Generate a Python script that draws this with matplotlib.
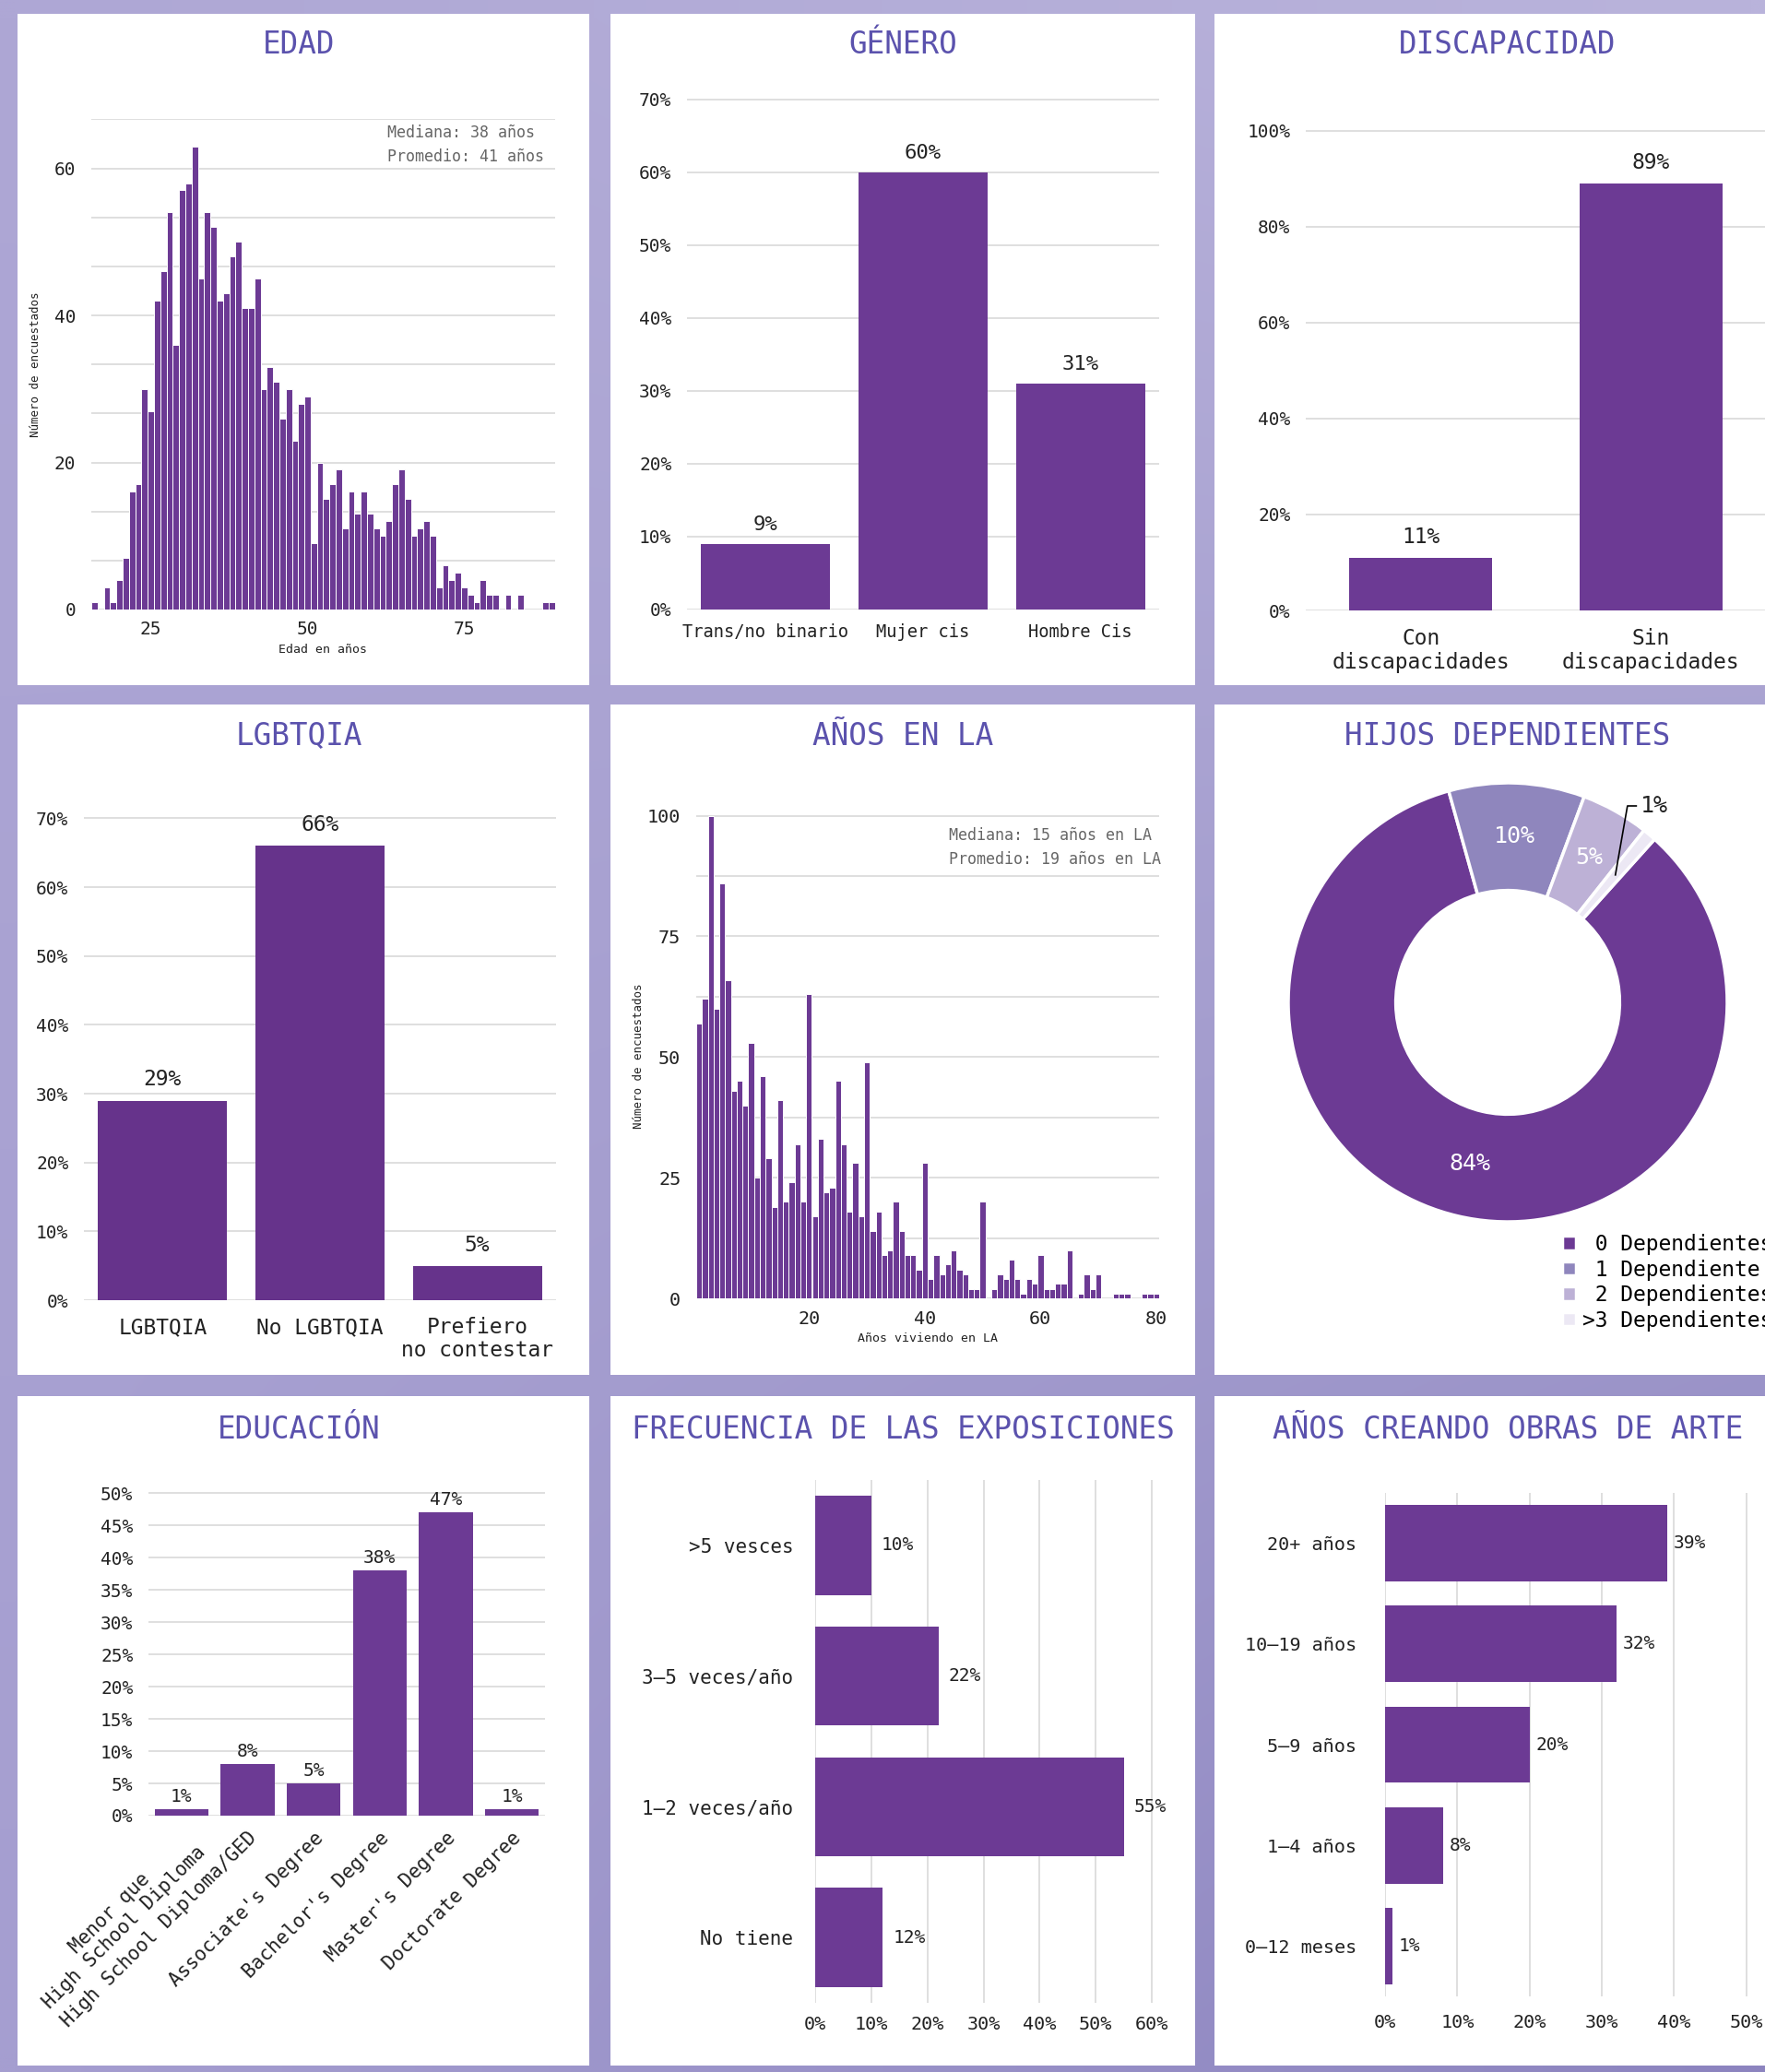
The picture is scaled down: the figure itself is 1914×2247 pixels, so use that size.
import matplotlib
matplotlib.use('Agg')
import matplotlib.pyplot as plt
import numpy as np
from matplotlib.patches import Rectangle
from matplotlib.ticker import MultipleLocator, PercentFormatter

# =========================
# Settings
# =========================
W, H = 1915, 2247
DPI = 100
plt.rcParams['font.family'] = ['DejaVu Sans Mono', 'DejaVu Sans']

PURPLE = '#6c3a94'
PURPLE_DARK = '#66338b'
TITLE_C = '#5b52ad'
GRID_C = '#dcdcdc'
TEXT_C = '#222222'
NOTE_C = '#666666'

# =========================
# Data
# =========================
edad_anios = list(range(16, 90))
edad_conteo = [1, 0, 3, 1, 4, 7, 16, 17, 30, 27, 42, 46, 54, 36, 57, 58, 63, 45,
               54, 52, 42, 43, 48, 50, 41, 41, 45, 30, 33, 31, 26, 30, 23, 28, 29,
               9, 20, 15, 17, 19, 11, 16, 13, 16, 13, 11, 10, 12, 17, 19, 15, 10,
               11, 12, 10, 3, 6, 4, 5, 3, 2, 1, 4, 2, 2, 0, 2, 0, 2, 0, 0, 0, 1, 1]
edad_notas = ['Mediana: 38 años', 'Promedio: 41 años']

genero_cat = ['Trans/no binario', 'Mujer cis', 'Hombre Cis']
genero_pct = [9, 60, 31]

discap_cat = ['Con\ndiscapacidades', 'Sin\ndiscapacidades']
discap_pct = [11, 89]

lgbt_cat = ['LGBTQIA', 'No LGBTQIA', 'Prefiero\nno contestar']
lgbt_pct = [29, 66, 5]

la_anios = list(range(1, 81))
la_conteo = [57, 62, 100, 60, 86, 66, 43, 45, 40, 53, 25, 46, 29, 19, 41, 20, 24,
             32, 20, 63, 17, 33, 22, 23, 45, 32, 18, 28, 17, 49, 14, 18, 9, 10, 20,
             14, 9, 9, 6, 28, 4, 9, 5, 7, 10, 6, 5, 2, 2, 20, 0, 2, 5, 4, 8, 4, 1,
             4, 3, 9, 2, 2, 3, 3, 10, 0, 1, 5, 2, 5, 0, 0, 1, 1, 1, 0, 0, 1, 1, 1]
la_notas = ['Mediana: 15 años en LA', 'Promedio: 19 años en LA']

hijos_cat = [' 0 Dependientes', ' 1 Dependiente', ' 2 Dependientes', '>3 Dependientes']
hijos_pct = [84, 10, 5, 1]
hijos_colores = ['#6c3a94', '#8f86bd', '#bdb1d6', '#ece8f4']

edu_cat = ['Menor que\nHigh School Diploma', 'High School Diploma/GED',
           "Associate's Degree", "Bachelor's Degree", "Master's Degree",
           'Doctorate Degree']
edu_pct = [1, 8, 5, 38, 47, 1]

expo_cat = ['>5 vesces', '3–5 veces/año', '1–2 veces/año', 'No tiene']
expo_pct = [10, 22, 55, 12]

arte_cat = ['20+ años', '10–19 años', '5–9 años', '1–4 años', '0–12 meses']
arte_pct = [39, 32, 20, 8, 1]

# =========================
# Helpers
# =========================
fig = plt.figure(figsize=(W / DPI, H / DPI), dpi=DPI)


def add_ax(l, r, t, b):
    # rectangle given in pixels from the top-left corner
    return fig.add_axes([l / W, 1 - b / H, (r - l) / W, (b - t) / H])


def style_ax(ax, size=14):
    for s in ax.spines.values():
        s.set_visible(False)
    ax.set_facecolor('none')
    ax.set_axisbelow(True)
    ax.tick_params(which='both', length=0, colors=TEXT_C, labelsize=size)


def title(x, y, txt, size=23.5):
    fig.text(x / W, 1 - y / H, txt, ha='center', va='center',
             fontsize=size, color=TITLE_C)


def notes(x, y, lines):
    for i, t in enumerate(lines):
        fig.text(x / W, 1 - (y + 26 * i) / H, t, ha='left', va='center',
                 fontsize=12, color=NOTE_C)


def bar_labels(ax, xs, vals, size, offset):
    for x, v in zip(xs, vals):
        ax.annotate('%d%%' % v, (x, v), xytext=(0, offset),
                    textcoords='offset points', ha='center', va='bottom',
                    fontsize=size, color=TEXT_C)


def hbar_labels(ax, ys, vals, size, offset):
    for y, v in zip(ys, vals):
        ax.annotate('%d%%' % v, (v, y), xytext=(offset, 0),
                    textcoords='offset points', ha='left', va='center',
                    fontsize=size, color=TEXT_C)


# =========================
# Background + panels
# =========================
bg = fig.add_axes([0, 0, 1, 1])
bg.set_xlim(0, W)
bg.set_ylim(H, 0)
bg.axis('off')

corners = np.array([[[0xae, 0xa7, 0xd5], [0xb9, 0xb3, 0xdb]],
                    [[0xa5, 0x9e, 0xd0], [0x8c, 0x84, 0xbf]]]) / 255.0
gy, gx = np.mgrid[0:1:60j, 0:1:60j]
grad = (corners[0, 0] * ((1 - gx) * (1 - gy))[..., None]
        + corners[0, 1] * (gx * (1 - gy))[..., None]
        + corners[1, 0] * ((1 - gx) * gy)[..., None]
        + corners[1, 1] * (gx * gy)[..., None])
bg.imshow(grad, extent=[0, W, H, 0], aspect='auto', interpolation='bilinear')

cols = [(19, 639), (662, 1296), (1317, 1940)]
rows = [(15, 743), (764, 1491), (1514, 2240)]
for (x0, x1) in cols:
    for (y0, y1) in rows:
        bg.add_patch(Rectangle((x0, y0), x1 - x0, y1 - y0,
                               facecolor='white', edgecolor='none'))

# =========================
# EDAD
# =========================
title(324, 49, 'EDAD')
ax = add_ax(99, 602, 129, 661)
style_ax(ax)
ax.bar(edad_anios, edad_conteo, width=1, color=PURPLE,
       edgecolor='white', linewidth=0.7)
ax.set_xlim(15.5, 89.5)
ax.set_ylim(0, 20 / 3 * 10 + 0.05)
ax.set_yticks([0, 20, 40, 60])
ax.yaxis.set_minor_locator(MultipleLocator(20 / 3))
ax.set_xticks([25, 50, 75])
ax.grid(axis='y', which='both', color=GRID_C, linewidth=1.3)
ax.tick_params(axis='y', pad=12)
ax.tick_params(axis='x', pad=9)
ax.set_xlabel('Edad en años', fontsize=9.5, color=TEXT_C, labelpad=4)
ax.set_ylabel('Número de encuestados', fontsize=9, color=TEXT_C, labelpad=10)
notes(420, 144, edad_notas)

# =========================
# GÉNERO
# =========================
title(979, 49, 'GÉNERO')
ax = add_ax(745, 1257, 106, 661)
style_ax(ax)
x = np.arange(len(genero_cat))
ax.bar(x, genero_pct, width=0.82, color=PURPLE)
ax.set_xlim(-0.5, 2.5)
ax.set_ylim(0, 70.2)
ax.set_yticks(range(0, 71, 10))
ax.yaxis.set_major_formatter(PercentFormatter(decimals=0))
ax.set_xticks(x)
ax.set_xticklabels(genero_cat, fontsize=13.5)
ax.grid(axis='y', color=GRID_C, linewidth=1.3)
ax.tick_params(axis='y', pad=12)
ax.tick_params(axis='x', pad=11)
bar_labels(ax, x, genero_pct, 16, 8)

# =========================
# DISCAPACIDAD
# =========================
title(1635, 49, 'DISCAPACIDAD')
ax = add_ax(1416, 1915, 140, 662)
style_ax(ax)
x = np.arange(len(discap_cat))
ax.bar(x, discap_pct, width=0.62, color=PURPLE)
ax.set_xlim(-0.5, 1.5)
ax.set_ylim(0, 100.3)
ax.set_yticks(range(0, 101, 20))
ax.yaxis.set_major_formatter(PercentFormatter(decimals=0))
ax.set_xticks(x)
ax.set_xticklabels(discap_cat, fontsize=16.5, linespacing=1.15)
ax.grid(axis='y', color=GRID_C, linewidth=1.3)
ax.tick_params(axis='y', pad=12)
ax.tick_params(axis='x', pad=14)
bar_labels(ax, x, discap_pct, 16.5, 8)

# =========================
# LGBTQIA
# =========================
title(324, 799, 'LGBTQIA')
ax = add_ax(91, 603, 886, 1410)
style_ax(ax)
x = np.arange(len(lgbt_cat))
ax.bar(x, lgbt_pct, width=0.82, color=PURPLE_DARK)
ax.set_xlim(-0.5, 2.5)
ax.set_ylim(0, 70.2)
ax.set_yticks(range(0, 71, 10))
ax.yaxis.set_major_formatter(PercentFormatter(decimals=0))
ax.set_xticks(x)
ax.set_xticklabels(lgbt_cat, fontsize=16.5, linespacing=1.1)
ax.grid(axis='y', color=GRID_C, linewidth=1.3)
ax.tick_params(axis='y', pad=12)
ax.tick_params(axis='x', pad=13)
bar_labels(ax, x, lgbt_pct, 16.5, 8)

# =========================
# AÑOS EN LA
# =========================
title(979, 799, 'AÑOS EN LA')
ax = add_ax(755, 1257, 883, 1408)
style_ax(ax, size=14.5)
ax.bar(la_anios, la_conteo, width=1, color=PURPLE,
       edgecolor='white', linewidth=0.7)
ax.set_xlim(0.5, 80.5)
ax.set_ylim(0, 100.3)
ax.set_yticks([0, 25, 50, 75, 100])
ax.yaxis.set_minor_locator(MultipleLocator(12.5))
ax.set_xticks([20, 40, 60, 80])
ax.grid(axis='y', which='both', color=GRID_C, linewidth=1.3)
ax.tick_params(axis='y', pad=12)
ax.tick_params(axis='x', pad=9)
ax.set_xlabel('Años viviendo en LA', fontsize=9.5, color=TEXT_C, labelpad=4)
ax.set_ylabel('Número de encuestados', fontsize=9, color=TEXT_C, labelpad=2)
notes(1029, 906, la_notas)

# =========================
# HIJOS DEPENDIENTES (donut)
# =========================
title(1635, 799, 'HIJOS DEPENDIENTES')
cx, cy, r = 1635, 1087, 238
ax = add_ax(cx - r, cx + r, cy - r, cy + r)
start = 48
wedges, _ = ax.pie(hijos_pct, colors=hijos_colores, startangle=start,
                   counterclock=False, radius=1,
                   wedgeprops=dict(width=0.49, edgecolor='white', linewidth=2.5))
ax.set_xlim(-1, 1)
ax.set_ylim(-1, 1)
ax.set_aspect('equal')

total = float(sum(hijos_pct))
ang = start
for i, v in enumerate(hijos_pct):
    span = 360 * v / total
    mid = np.deg2rad(ang - span / 2)
    ang -= span
    if v >= 5:
        ax.text(0.755 * np.cos(mid), 0.755 * np.sin(mid), '%d%%' % v,
                ha='center', va='center', fontsize=18, color='white')
    else:
        x0, y0 = 0.76 * np.cos(mid), 0.76 * np.sin(mid)
        x1, y1 = x0 + 0.055, 0.895
        ax.plot([x0, x1, x1 + 0.04], [y0, y1, y1], color='black',
                linewidth=1.2, clip_on=False)
        ax.text(x1 + 0.06, y1, '%d%%' % v, ha='left', va='center',
                fontsize=18, color=TEXT_C, clip_on=False)

fig.legend(wedges, hijos_cat, loc='upper left',
           bbox_to_anchor=(1694 / W, 1 - 1338 / H),
           frameon=False, fontsize=16.5, handlelength=0.65, handleheight=0.65,
           handletextpad=0.3, labelspacing=0.2, borderpad=0, borderaxespad=0)

# =========================
# EDUCACIÓN
# =========================
title(324, 1550, 'EDUCACIÓN')
ax = add_ax(161, 591, 1618, 1969)
style_ax(ax)
x = np.arange(len(edu_cat))
ax.bar(x, edu_pct, width=0.81, color=PURPLE)
ax.set_xlim(-0.5, 5.5)
ax.set_ylim(0, 50.2)
ax.set_yticks(range(0, 51, 5))
ax.yaxis.set_major_formatter(PercentFormatter(decimals=0))
ax.set_xticks(x)
ax.set_xticklabels(edu_cat, rotation=45, ha='right', rotation_mode='anchor',
                   fontsize=15, linespacing=1.15)
for lab in ax.get_xticklabels():
    lab.set_multialignment('center')
ax.grid(axis='y', color=GRID_C, linewidth=1.3)
ax.tick_params(axis='y', pad=12)
ax.tick_params(axis='x', pad=10)
bar_labels(ax, x, edu_pct, 14, 3)

# =========================
# FRECUENCIA DE LAS EXPOSICIONES
# =========================
title(979, 1550, 'FRECUENCIA DE LAS EXPOSICIONES')
ax = add_ax(884, 1250, 1605, 2172)
style_ax(ax, size=14.5)
y = np.arange(len(expo_cat))
ax.barh(y, expo_pct, height=0.76, color=PURPLE)
ax.set_ylim(3.5, -0.5)
ax.set_xlim(0, 60.15)
ax.set_xticks(range(0, 61, 10))
ax.xaxis.set_major_formatter(PercentFormatter(decimals=0))
ax.set_yticks(y)
ax.set_yticklabels(expo_cat, fontsize=15)
ax.grid(axis='x', color=GRID_C, linewidth=1.3)
ax.tick_params(axis='y', pad=17)
ax.tick_params(axis='x', pad=10)
hbar_labels(ax, y, expo_pct, 14, 8)

# =========================
# AÑOS CREANDO OBRAS DE ARTE
# =========================
title(1635, 1550, 'AÑOS CREANDO OBRAS DE ARTE')
ax = add_ax(1502, 1915, 1619, 2165)
style_ax(ax, size=14.5)
y = np.arange(len(arte_cat))
ax.barh(y, arte_pct, height=0.76, color=PURPLE)
ax.set_ylim(4.5, -0.5)
ax.set_xlim(0, 52.7)
ax.set_xticks(range(0, 51, 10))
ax.xaxis.set_major_formatter(PercentFormatter(decimals=0))
ax.set_yticks(y)
ax.set_yticklabels(arte_cat, fontsize=14.5)
ax.grid(axis='x', color=GRID_C, linewidth=1.3)
ax.tick_params(axis='y', pad=22)
ax.tick_params(axis='x', pad=14)
hbar_labels(ax, y, arte_pct, 14, 5)

plt.savefig('out.png', dpi=DPI)
plt.close()
